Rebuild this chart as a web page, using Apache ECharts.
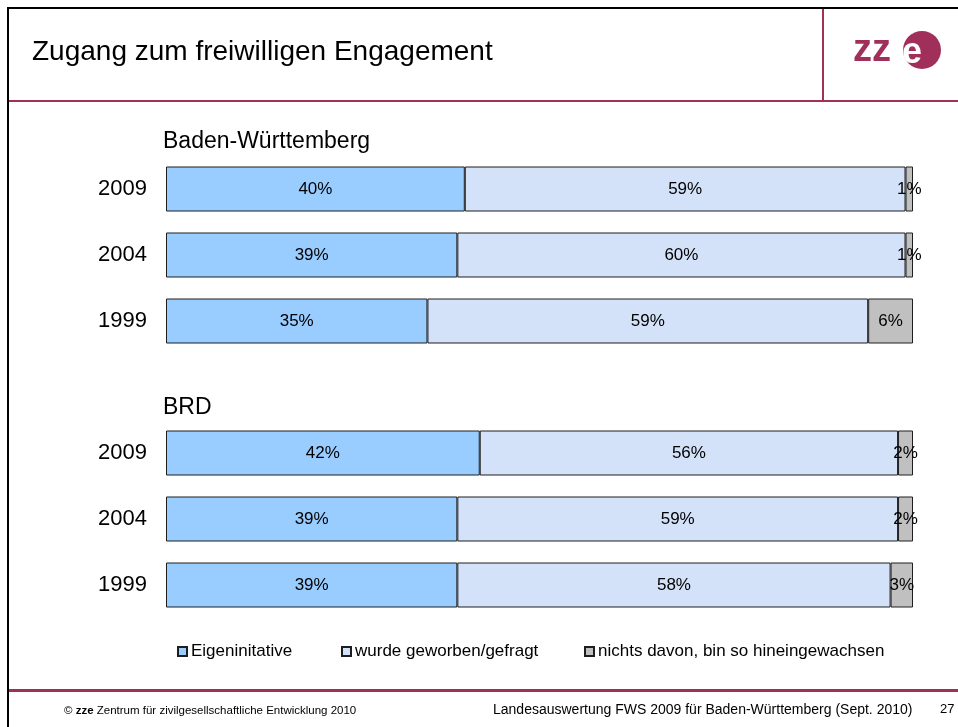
<!DOCTYPE html>
<html>
<head>
<meta charset="utf-8">
<script src="https://cdn.jsdelivr.net/npm/echarts@6/dist/echarts.min.js"></script>
<style>
  html, body { margin: 0; padding: 0; background: #fff; }
  #chart { width: 958px; height: 727px; }
</style>
</head>
<body>
<div id="chart"></div>
<script>
'use strict';

var years = ['2009', '2004', '1999'];
var seriesNames = ['Eigeninitative', 'wurde geworben/gefragt', 'nichts davon, bin so hineingewachsen'];
var seriesColors = ['#99ccff', '#d3e1f9', '#c0c0c0'];

// Baden-Württemberg
var bwEigen = [40, 39, 35];
var bwGeworben = [59, 60, 59];
var bwNichts = [1, 1, 6];

// BRD
var brdEigen = [42, 39, 39];
var brdGeworben = [56, 59, 58];
var brdNichts = [2, 2, 3];

var FONT = '"Liberation Sans", Arial, sans-serif';
var MAROON = '#a0305a';

(function() {
  var chart = echarts.init(document.getElementById('chart'));

  function makeSeries(name, data, idx, gridIdx) {
    return {
      name: name,
      type: 'bar',
      stack: 'g' + gridIdx,
      xAxisIndex: gridIdx,
      yAxisIndex: gridIdx,
      barWidth: 45,
      data: data,
      itemStyle: { color: seriesColors[idx], borderColor: '#1e1e1e', borderWidth: 1 },
      label: {
        show: true,
        position: 'inside',
        formatter: '{c}%',
        color: '#000',
        fontFamily: FONT,
        fontSize: 17
      },
      emphasis: { disabled: true },
      silent: true
    };
  }

  function yAxis(gridIdx) {
    return {
      type: 'category',
      gridIndex: gridIdx,
      data: years,
      inverse: true,
      axisLine: { show: false },
      axisTick: { show: false },
      axisLabel: { color: '#000', fontFamily: FONT, fontSize: 22, margin: 19 }
    };
  }

  function xAxis(gridIdx) {
    return { type: 'value', gridIndex: gridIdx, min: 0, max: 100, show: false };
  }

  function legendAt(name, left) {
    return {
      data: [name],
      left: left,
      top: 643,
      padding: 0,
      icon: 'rect',
      itemWidth: 9,
      itemHeight: 9,
      itemGap: 0,
      selectedMode: false,
      textStyle: { color: '#000', fontFamily: FONT, fontSize: 17, padding: [0, 0, 0, -1] }
    };
  }

  var series = [];
  [bwEigen, bwGeworben, bwNichts].forEach(function(d, i) { series.push(makeSeries(seriesNames[i], d, i, 0)); });
  [brdEigen, brdGeworben, brdNichts].forEach(function(d, i) { series.push(makeSeries(seriesNames[i], d, i, 1)); });

  chart.setOption({
    animation: false,
    backgroundColor: '#fff',
    title: [
      { text: 'Baden-Württemberg', left: 158, top: 125, textStyle: { color: '#000', fontFamily: FONT, fontSize: 23, fontWeight: 'normal' } },
      { text: 'BRD', left: 158, top: 391, textStyle: { color: '#000', fontFamily: FONT, fontSize: 23, fontWeight: 'normal' } }
    ],
    legend: [
      legendAt(seriesNames[0], 177),
      legendAt(seriesNames[1], 341),
      legendAt(seriesNames[2], 584)
    ],
    grid: [
      { left: 166, right: 45, top: 156, height: 198 },
      { left: 166, right: 45, top: 420, height: 198 }
    ],
    xAxis: [xAxis(0), xAxis(1)],
    yAxis: [yAxis(0), yAxis(1)],
    series: series,
    graphic: [
      // slide frame
      { type: 'rect', shape: { x: 7, y: 7, width: 2, height: 720 }, style: { fill: '#000' } },
      { type: 'rect', shape: { x: 7, y: 7, width: 951, height: 2 }, style: { fill: '#000' } },
      { type: 'rect', shape: { x: 9, y: 100, width: 949, height: 2 }, style: { fill: MAROON } },
      { type: 'rect', shape: { x: 822, y: 9, width: 2, height: 92 }, style: { fill: MAROON } },
      { type: 'rect', shape: { x: 9, y: 689, width: 949, height: 3 }, style: { fill: MAROON } },
      // heading
      { type: 'text', left: 32, top: 38, style: { text: 'Zugang zum freiwilligen Engagement', fill: '#000', font: '28px ' + FONT } },
      // logo
      { type: 'text', left: 853, top: 32, style: { text: 'zz', fill: MAROON, font: 'bold 38px ' + FONT } },
      { type: 'circle', shape: { cx: 922, cy: 50, r: 19 }, style: { fill: MAROON } },
      { type: 'text', left: 902, top: 35, style: { text: 'e', fill: '#fff', font: 'bold 36px ' + FONT } },
      // footer
      { type: 'text', left: 64, top: 705, style: { rich: {
          n: { fill: '#000', font: '11.5px ' + FONT },
          b: { fill: '#000', font: 'bold 11.5px ' + FONT }
        }, text: '{n|© }{b|zze}{n| Zentrum für zivilgesellschaftliche Entwicklung 2010}' } },
      { type: 'text', left: 493, top: 703, style: { text: 'Landesauswertung FWS 2009 für Baden-Württemberg (Sept. 2010)', fill: '#000', font: '14px ' + FONT } },
      { type: 'text', left: 940, top: 703, style: { text: '27', fill: '#000', font: '13px ' + FONT } }
    ]
  });
})();
</script>
</body>
</html>
